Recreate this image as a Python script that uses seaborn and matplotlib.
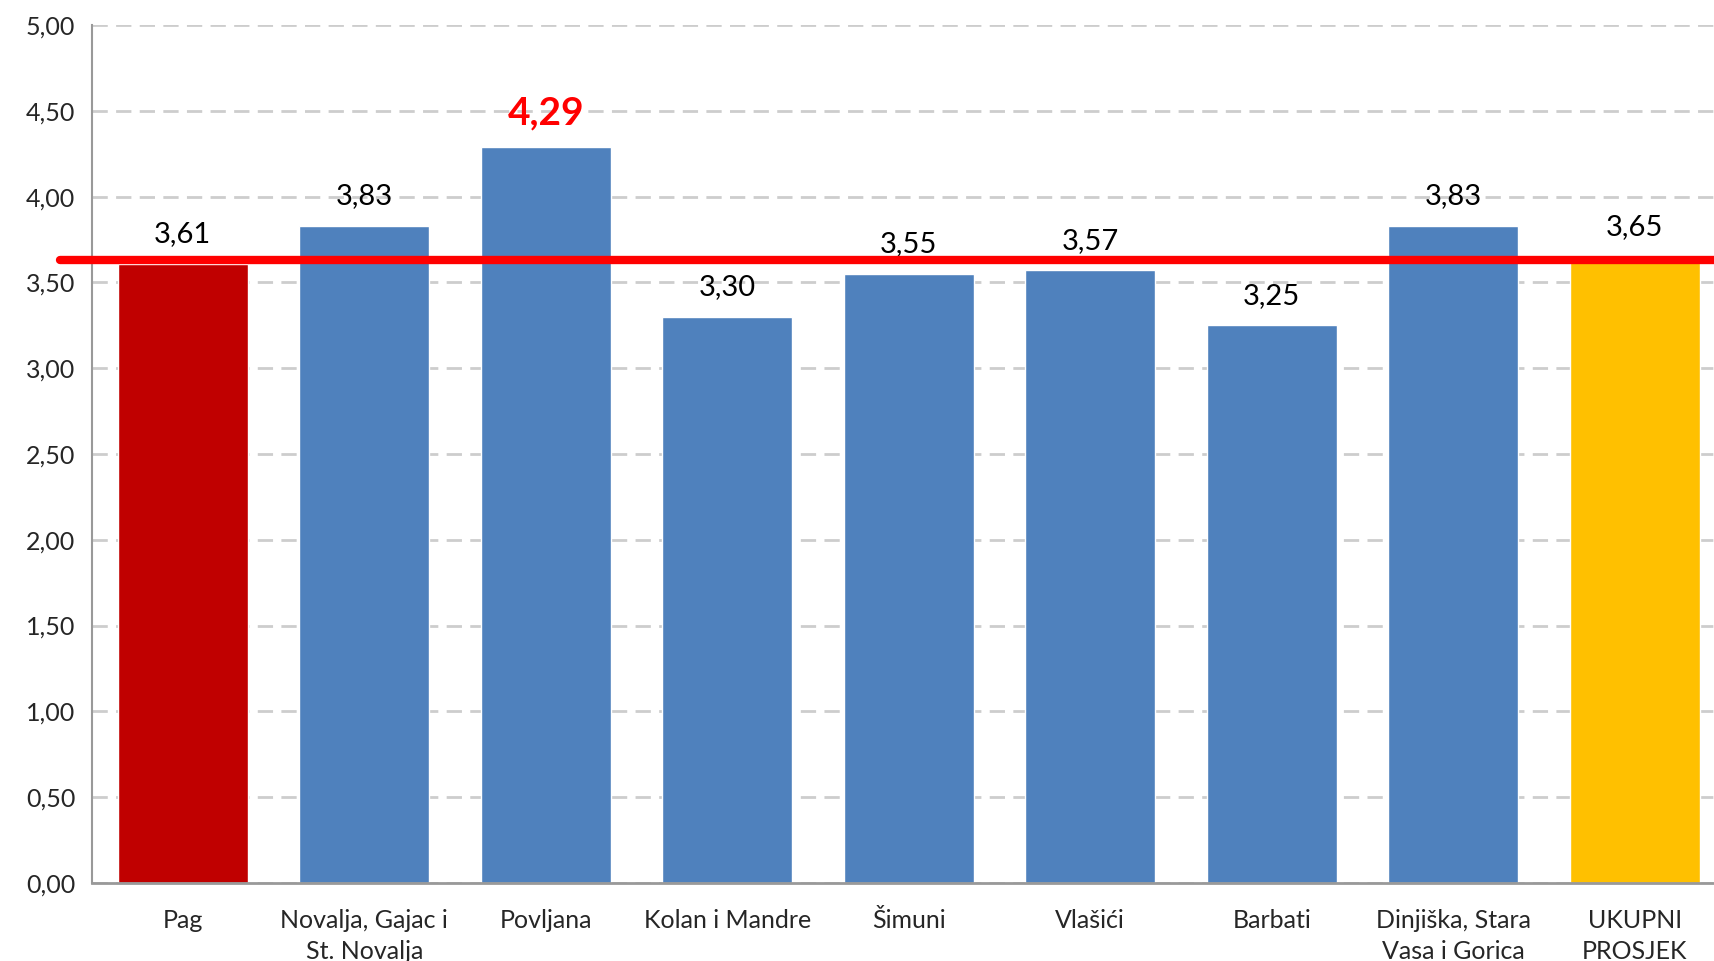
import pandas as pd
import numpy as np
import matplotlib
matplotlib.use('Agg')
import matplotlib.pyplot as plt
import seaborn as sns

categories = ['Pag', 'Novalja, Gajac i\nSt. Novalja', 'Povljana', 'Kolan i Mandre', 'Šimuni',
              'Vlašići', 'Barbati', 'Dinjiška, Stara\nVasa i Gorica', 'UKUPNI\nPROSJEK']
values = [3.61, 3.83, 4.29, 3.30, 3.55, 3.57, 3.25, 3.83, 3.65]
bar_colors = ['#C00000', '#4F81BD', '#4F81BD', '#4F81BD', '#4F81BD',
              '#4F81BD', '#4F81BD', '#4F81BD', '#FFC000']
avg_line = 3.63
y_ticks = [0, 0.5, 1.0, 1.5, 2.0, 2.5, 3.0, 3.5, 4.0, 4.5, 5.0]

df = pd.DataFrame({'kat': categories, 'ocjena': values})

sns.set_style('white')
plt.rcParams['font.family'] = ['Lato', 'DejaVu Sans']

fig = plt.figure(figsize=(17.14, 9.61), dpi=100)
# axis runs a little past the right edge of the picture, like the original
ax = fig.add_axes([0.0537, 0.0812, 0.953, 0.8928])

sns.barplot(data=df, x='kat', y='ocjena', hue='kat', palette=bar_colors,
            legend=False, width=0.717, saturation=1, ax=ax)

ax.set_xlim(-0.5, 8.5)
ax.set_ylim(0, 5)
ax.set_yticks(y_ticks)
ax.set_yticklabels([f'{t:.2f}'.replace('.', ',') for t in y_ticks], fontsize=18)
ax.set_xlabel('')
ax.set_ylabel('')
ax.set_axisbelow(True)
ax.yaxis.grid(True, color='#cdcdcd', linestyle=(0, (5.5, 3)), linewidth=2)

# category boundaries as tick marks
ax.set_xticks(np.arange(len(categories)))
ax.set_xticklabels(categories, fontsize=18, linespacing=1.4)
ax.set_xticks(np.arange(-0.5, len(categories)), minor=True)
ax.tick_params(axis='x', which='major', length=0, pad=19)
ax.tick_params(axis='x', which='minor', length=8, width=1.2, color='#888888')
ax.tick_params(axis='y', length=6, width=1.2, color='#888888', pad=6)

for s in ['top', 'right']:
    ax.spines[s].set_visible(False)
ax.spines['left'].set_color('#999999')
ax.spines['left'].set_linewidth(1.5)
ax.spines['bottom'].set_color('#999999')
ax.spines['bottom'].set_linewidth(2)

for i, v in enumerate(values):
    txt = f'{v:.2f}'.replace('.', ',')
    if v == max(values):
        ax.annotate(txt, (i, v), xytext=(0, 12), textcoords='offset points',
                    ha='center', va='bottom', fontsize=28, fontweight='bold', color='#FF0000')
    else:
        ax.annotate(txt, (i, v), xytext=(0, 12), textcoords='offset points',
                    ha='center', va='bottom', fontsize=21, color='black')

ax.axhline(avg_line, xmin=-0.0196, xmax=1.0, color='#FF0000', linewidth=6, clip_on=False, zorder=5)

fig.savefig('out.png', dpi=100)
